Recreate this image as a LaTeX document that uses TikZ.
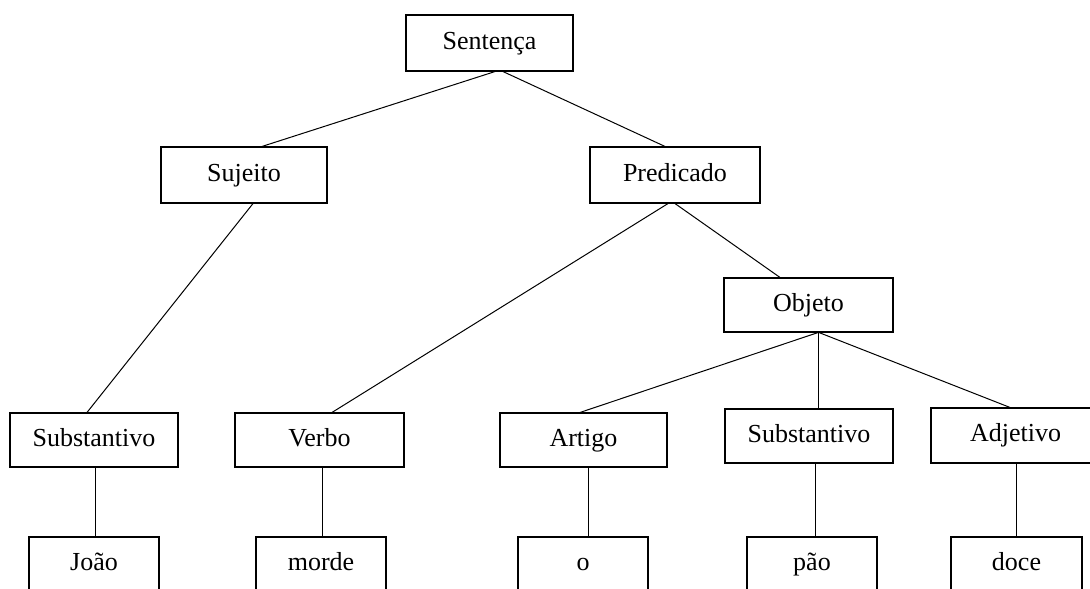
\documentclass[tikz,border=0pt]{standalone}
\usepackage{fontspec}
\setmainfont{Liberation Serif}
\begin{document}
\begin{tikzpicture}[x=1pt,y=-1pt,
  box/.style={draw=black,line width=1.1pt,fill=white,inner sep=0pt,
    minimum height=55pt,text height=17pt,text depth=5pt,
    font=\fontsize{26}{30}\selectfont},
  link/.style={draw=black,line width=1pt}]
\useasboundingbox (0,0) rectangle (1090,589);
\clip (0,0) rectangle (1090,589);
% top levels
\node[box,minimum width=167pt,minimum height=56pt] (sent) at (489.5,43) {Sentença};
\node[box,minimum width=166pt,minimum height=56pt] (suj) at (244,175) {Sujeito};
\node[box,minimum width=170pt,minimum height=56pt] (pred) at (675,175) {Predicado};
\node[box,minimum width=169pt,minimum height=54pt] (obj) at (808.5,305) {Objeto};
% word classes
\node[box,minimum width=168pt,minimum height=54pt] (subA) at (94,440) {Substantivo};
\node[box,minimum width=169pt,minimum height=54pt] (verb) at (319.5,440) {Verbo};
\node[box,minimum width=167pt,minimum height=54pt] (art) at (583.5,440) {Artigo};
\node[box,minimum width=168pt,minimum height=54pt] (subB) at (809,436) {Substantivo};
\node[box,minimum width=169pt,minimum height=55pt] (adj) at (1015.5,435.5) {Adjetivo};
% words
\node[box,minimum width=130pt] (joao) at (94,564.5) {João};
\node[box,minimum width=130pt] (morde) at (321,564.5) {morde};
\node[box,minimum width=130pt] (o) at (583,564.5) {o};
\node[box,minimum width=130pt] (pao) at (812,564.5) {pão};
\node[box,minimum width=131pt] (doce) at (1016.5,564.5) {doce};
% connectors
\draw[link] ([xshift=5.5pt]sent.south) -- ([xshift=18pt]suj.north);
\draw[link] ([xshift=13.5pt]sent.south) -- ([xshift=-10pt]pred.north);
\draw[link] ([xshift=9pt]suj.south) -- ([xshift=-7pt]subA.north);
\draw[link] ([xshift=-7pt]pred.south) -- ([xshift=12.5pt]verb.north);
\draw[link] (pred.south) -- ([xshift=-28.5pt]obj.north);
\draw[link] ([xshift=9.5pt]obj.south) -- ([xshift=-3.5pt]art.north);
\draw[link] ([xshift=10pt]obj.south) -- ([xshift=9.5pt]subB.north);
\draw[link] ([xshift=10.5pt]obj.south) -- ([xshift=-5.5pt]adj.north);
\draw[link] ([xshift=1pt]subA.south) -- ([xshift=1pt]joao.north);
\draw[link] ([xshift=2.5pt]verb.south) -- ([xshift=1pt]morde.north);
\draw[link] ([xshift=4.5pt]art.south) -- ([xshift=5pt]o.north);
\draw[link] ([xshift=6pt]subB.south) -- ([xshift=3pt]pao.north);
\draw[link] ([xshift=0.5pt]adj.south) -- ([xshift=-0.5pt]doce.north);
\end{tikzpicture}
\end{document}
